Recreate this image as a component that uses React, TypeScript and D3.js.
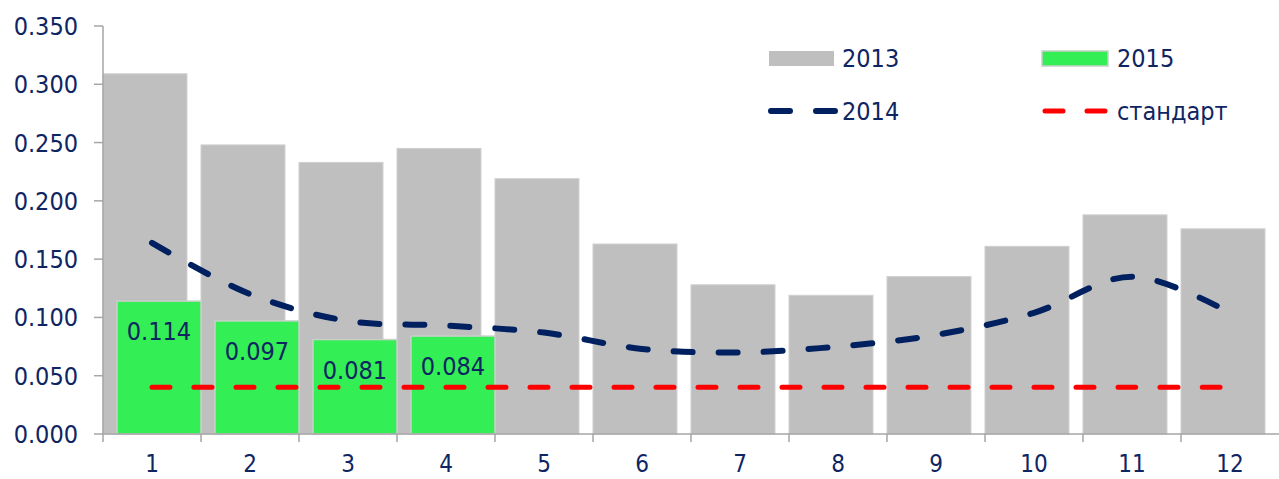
import * as d3 from "d3";

const months = ["1", "2", "3", "4", "5", "6", "7", "8", "9", "10", "11", "12"];
const values2013 = [0.309, 0.248, 0.233, 0.245, 0.219, 0.163, 0.128, 0.119, 0.135, 0.161, 0.188, 0.176];
const values2014 = [0.164, 0.12, 0.097, 0.093, 0.087, 0.073, 0.07, 0.075, 0.085, 0.104, 0.135, 0.104];
const values2015 = [0.114, 0.097, 0.081, 0.084];
const standard = [0.04, 0.04, 0.04, 0.04, 0.04, 0.04, 0.04, 0.04, 0.04, 0.04, 0.04, 0.04];
const yTicks = [0, 0.05, 0.1, 0.15, 0.2, 0.25, 0.3, 0.35];

const width = 1279;
const height = 479;
const marginLeft = 103;
const marginTop = 26;
const bottom = 434;

const font = "'DejaVu Sans Condensed', 'DejaVu Sans', sans-serif";
const textColor = "#0f2562";
const axisColor = "#a6a6a6";

export default function App() {
    const x = d3.scaleBand<string>().domain(months).range([marginLeft, width]).padding(0);
    const y = d3.scaleLinear().domain([0, 0.35]).range([bottom, marginTop]);
    const bw = x.bandwidth() * 0.857;
    const cx = (m: string) => (x(m) ?? 0) + x.bandwidth() / 2;
    const fmt = d3.format(".3f");

    const line = d3
        .line<number>()
        .x((_, i) => cx(months[i]))
        .y((d) => y(d))
        .curve(d3.curveCatmullRom.alpha(0.5));

    return (
        <svg
            width={width}
            height={height}
            style={{ position: "absolute", left: 0, top: 0, background: "#fff" }}
            fontFamily={font}
        >
            {/* 2013 bars */}
            {values2013.map((v, i) => (
                <rect
                    key={"g" + i}
                    x={x(months[i])}
                    y={y(v)}
                    width={bw}
                    height={bottom - y(v)}
                    fill="#bfbfbf"
                    stroke="#d0d0d0"
                    strokeWidth={1}
                />
            ))}
            {/* 2015 bars */}
            {values2015.map((v, i) => (
                <rect
                    key={"n" + i}
                    x={(x(months[i]) ?? 0) + x.bandwidth() - bw}
                    y={y(v)}
                    width={bw}
                    height={bottom - y(v)}
                    fill="#33ee55"
                    stroke="#c8d0c8"
                    strokeWidth={1.5}
                />
            ))}
            {values2015.map((v, i) => (
                <text
                    key={"l" + i}
                    x={(x(months[i]) ?? 0) + x.bandwidth() - bw / 2}
                    y={y(v) + 39}
                    textAnchor="middle"
                    fontSize={25}
                    fill={textColor}
                >
                    {fmt(v)}
                </text>
            ))}

            {/* axes */}
            <line x1={marginLeft} x2={marginLeft} y1={marginTop} y2={bottom} stroke={axisColor} strokeWidth={1.5} />
            <line x1={marginLeft} x2={width} y1={bottom} y2={bottom} stroke={axisColor} strokeWidth={1.5} />
            {yTicks.map((t) => (
                <g key={"yt" + t}>
                    <line x1={94} x2={marginLeft} y1={y(t)} y2={y(t)} stroke={axisColor} strokeWidth={1.5} />
                    <text x={78} y={y(t)} dy="0.36em" textAnchor="end" fontSize={25} fill={textColor}>
                        {fmt(t)}
                    </text>
                </g>
            ))}
            {months.map((m, i) => (
                <line
                    key={"xt" + m}
                    x1={marginLeft + i * x.bandwidth()}
                    x2={marginLeft + i * x.bandwidth()}
                    y1={bottom}
                    y2={bottom + 8}
                    stroke={axisColor}
                    strokeWidth={1.5}
                />
            ))}
            {months.map((m) => (
                <text key={"xl" + m} x={cx(m)} y={472} textAnchor="middle" fontSize={24} fill={textColor}>
                    {m}
                </text>
            ))}

            {/* lines */}
            <path
                d={line(standard) ?? ""}
                fill="none"
                stroke="#ff0000"
                strokeWidth={5}
                strokeDasharray="18 24"
                strokeLinecap="round"
            />
            <path
                d={line(values2014) ?? ""}
                fill="none"
                stroke="#002060"
                strokeWidth={6}
                strokeDasharray="19 26"
                strokeLinecap="round"
            />

            {/* legend */}
            <rect x={769} y={51} width={65} height={15} fill="#bfbfbf" />
            <text x={842} y={67} fontSize={25} fill={textColor}>2013</text>
            <rect x={1042} y={51} width={66} height={15} fill="#33ee55" stroke="#c8d0c8" strokeWidth={1.5} />
            <text x={1117} y={67} fontSize={25} fill={textColor}>2015</text>
            <line x1={771} x2={835} y1={111} y2={111} stroke="#002060" strokeWidth={6} strokeDasharray="19 26" strokeLinecap="round" />
            <text x={842} y={120} fontSize={25} fill={textColor}>2014</text>
            <line x1={1045} x2={1105} y1={111} y2={111} stroke="#ff0000" strokeWidth={5} strokeDasharray="18 24" strokeLinecap="round" />
            <text x={1117} y={120} fontSize={25} fill={textColor}>стандарт</text>
        </svg>
    );
}
